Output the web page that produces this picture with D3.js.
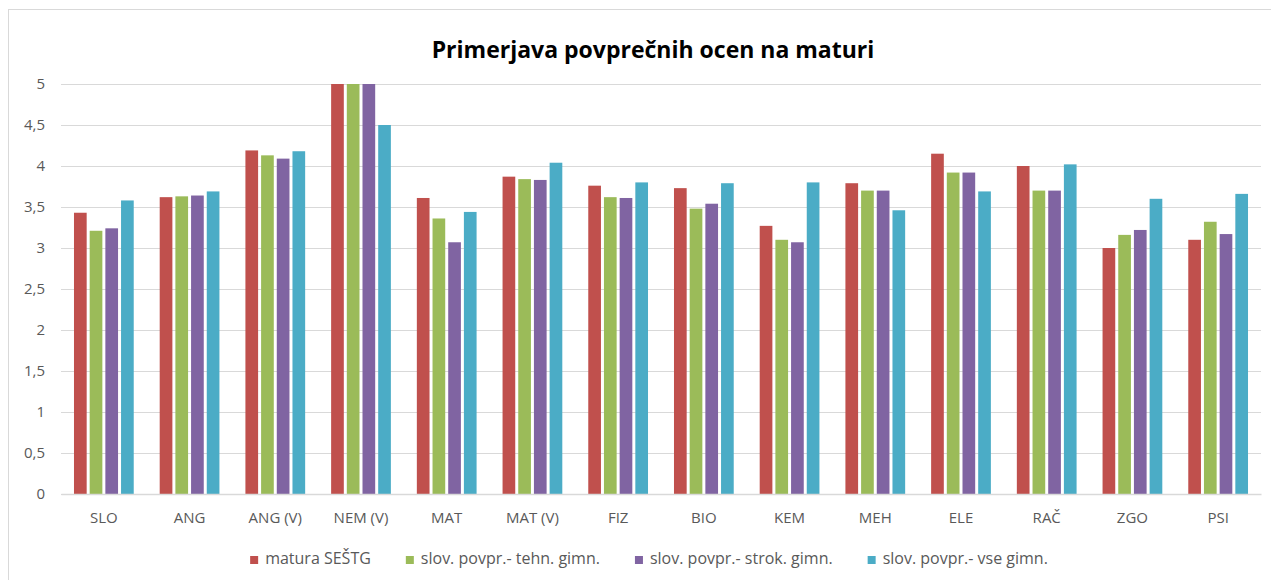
<!DOCTYPE html>
<html>
<head>
<meta charset="utf-8">
<script src="https://cdn.jsdelivr.net/npm/d3@7"></script>
<style>
  body { margin: 0; background: #fff; }
  text { font-family: "Open Sans", sans-serif; }
</style>
</head>
<body>
<script>
var categories = ["SLO", "ANG", "ANG (V)", "NEM (V)", "MAT", "MAT (V)", "FIZ", "BIO", "KEM", "MEH", "ELE", "RAČ", "ZGO", "PSI"];
var seriesNames = ["matura SEŠTG", "slov. povpr.- tehn. gimn.", "slov. povpr.- strok. gimn.", "slov. povpr.- vse gimn."];
var seriesColors = ["#C0504D", "#9BBB59", "#8064A2", "#4BACC6"];
var maturaSestg = [3.43, 3.62, 4.19, 5, 3.61, 3.87, 3.76, 3.73, 3.27, 3.79, 4.15, 4.00, 3.00, 3.10];
var tehnGimn    = [3.21, 3.63, 4.13, 5, 3.36, 3.84, 3.62, 3.48, 3.10, 3.70, 3.92, 3.70, 3.16, 3.32];
var strokGimn   = [3.24, 3.64, 4.09, 5, 3.07, 3.83, 3.61, 3.54, 3.07, 3.70, 3.92, 3.70, 3.22, 3.17];
var vseGimn     = [3.58, 3.69, 4.18, 4.5, 3.44, 4.04, 3.80, 3.79, 3.80, 3.46, 3.69, 4.02, 3.60, 3.66];
var yTicks = [0, 0.5, 1, 1.5, 2, 2.5, 3, 3.5, 4, 4.5, 5];
var title = "Primerjava povprečnih ocen na maturi";

var seriesValues = [maturaSestg, tehnGimn, strokGimn, vseGimn];

//page frame
var width = 1271, height = 580;
var plotLeft = 61, plotRight = 1261, plotTop = 84, plotBottom = 494;

var svg = d3.select("body").append("svg")
    .attr("width", width)
    .attr("height", height);

svg.append("rect")
    .attr("x", 8.5).attr("y", 9.5)
    .attr("width", 1300).attr("height", 600)
    .attr("fill", "#fff")
    .attr("stroke", "#d9d9d9");

//scales
var y = d3.scaleLinear().domain([0, 5]).range([plotBottom, plotTop]);
var x0 = d3.scaleBand().domain(categories).range([plotLeft, plotRight]).paddingInner(0.268).paddingOuter(0.134);
var x1 = d3.scaleBand().domain(d3.range(seriesNames.length)).range([0, x0.bandwidth()]);

var fmt = d3.formatLocale({decimal: ",", thousands: ".", grouping: [3], currency: ["", ""]}).format("~g");

//gridlines + y labels
var yAxis = d3.axisLeft(y)
    .tickValues(yTicks)
    .tickFormat(fmt)
    .tickSize(-(plotRight - plotLeft))
    .tickPadding(16);

var gy = svg.append("g")
    .attr("transform", "translate(" + plotLeft + ",0)")
    .call(yAxis);
gy.select(".domain").remove();
gy.selectAll(".tick line").attr("stroke", "#d9d9d9").attr("stroke-width", 1.2);
gy.selectAll(".tick text")
    .attr("fill", "#595959")
    .style("font-size", "15px")
    .style("font-family", "'Open Sans', sans-serif");

//bars
var groups = svg.append("g").selectAll("g")
    .data(categories)
    .enter().append("g")
    .attr("transform", function(d){ return "translate(" + x0(d) + ",0)"; });

groups.selectAll("rect")
    .data(function(d, i){
        return seriesValues.map(function(s, k){ return {k: k, v: s[i]}; });
    })
    .enter().append("rect")
    .attr("x", function(d){ return x1(d.k) + 1.5; })
    .attr("width", x1.bandwidth() - 3)
    .attr("y", function(d){ return y(d.v); })
    .attr("height", function(d){ return y(0) - y(d.v); })
    .attr("fill", function(d){ return seriesColors[d.k]; });

//x labels
var xAxis = d3.axisBottom(x0).tickSize(0).tickPadding(18);
var gx = svg.append("g")
    .attr("transform", "translate(0," + plotBottom + ")")
    .call(xAxis);
gx.select(".domain").attr("stroke", "#d9d9d9").attr("stroke-width", 1.5);
gx.selectAll(".tick text")
    .attr("fill", "#595959")
    .style("font-size", "15px")
    .style("font-family", "'Open Sans', sans-serif");

//title
svg.append("text")
    .attr("x", 653)
    .attr("y", 58)
    .attr("text-anchor", "middle")
    .style("font-size", "23px")
    .style("font-weight", "bold")
    .attr("fill", "#000")
    .text(title);

//legend
var legend = svg.append("g");
var lx = 0;
seriesNames.forEach(function(name, k){
    var item = legend.append("g").attr("transform", "translate(" + lx + ",0)");
    item.append("rect")
        .attr("x", 0).attr("y", -8)
        .attr("width", 8).attr("height", 8)
        .attr("fill", seriesColors[k]);
    var t = item.append("text")
        .attr("x", 15).attr("y", 0)
        .attr("fill", "#595959")
        .style("font-size", "16px")
        .text(name);
    lx += 15 + t.node().getComputedTextLength() + 35;
});
var legendWidth = lx - 35;
legend.attr("transform", "translate(" + (649 - legendWidth / 2) + ",564)");
</script>
</body>
</html>
